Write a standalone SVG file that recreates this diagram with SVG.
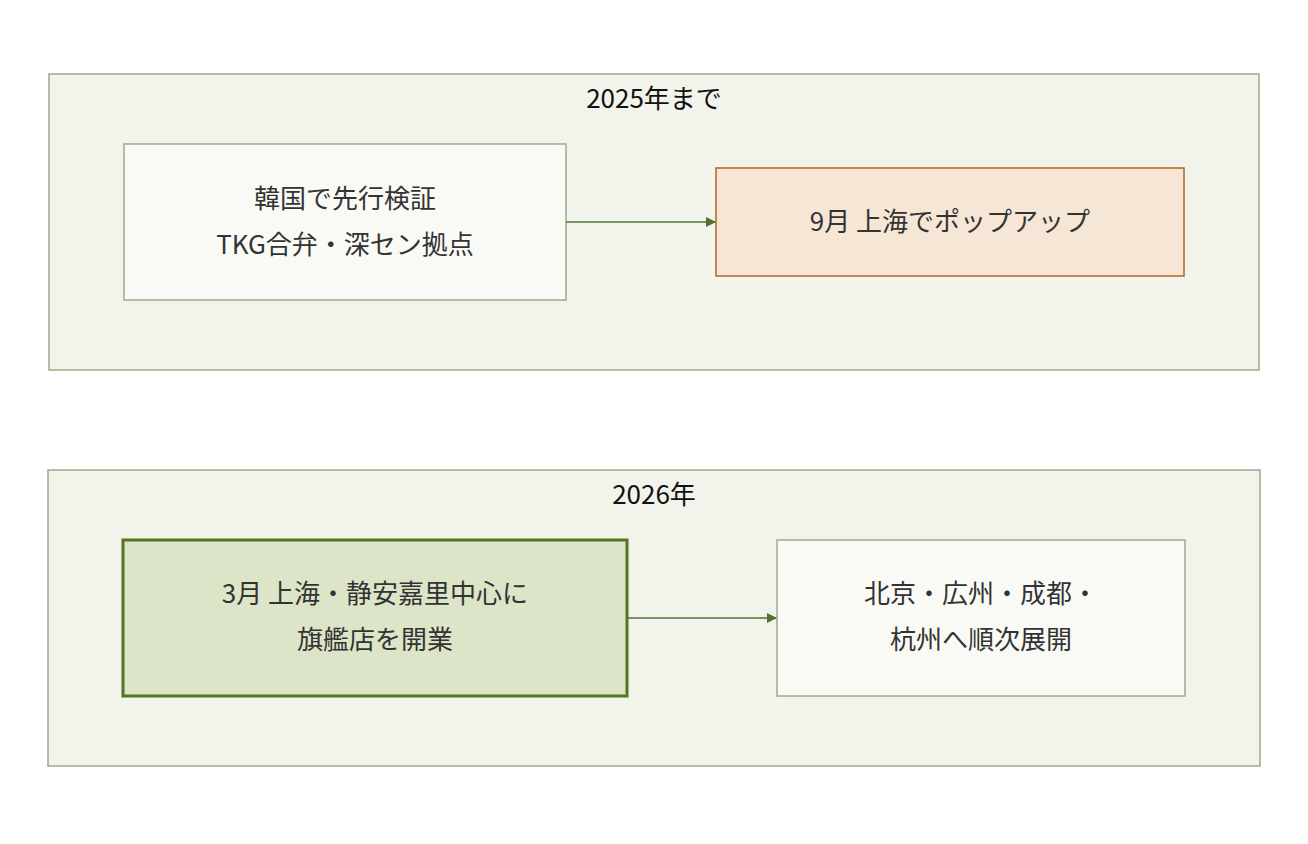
<svg xmlns="http://www.w3.org/2000/svg" width="1308" height="844" viewBox="0 0 1308 844">
<style>
.grp{fill:#f2f3eb;stroke:#9aac8a;stroke-width:1.5}
.node{fill:#f9faf5;stroke:#9aac8a;stroke-width:1.5}
.t{font-family:"Noto Sans CJK JP","Liberation Sans",sans-serif;font-size:26px;fill:#333;text-anchor:middle}
.h{font-family:"Noto Sans CJK JP","Liberation Sans",sans-serif;font-size:26px;fill:#111;text-anchor:middle}
.c{stroke:#4f7336;stroke-width:1.5;fill:none}
</style>
<defs><marker id="a" markerWidth="10" markerHeight="10" refX="9" refY="5" orient="auto" markerUnits="userSpaceOnUse"><path d="M0,0L10,5L0,10z" fill="#4f7336"/></marker></defs>
<rect x="0" y="0" width="1308" height="844" fill="#fff"/>
<g id="g2025"><rect class="grp" x="49" y="74" width="1210" height="296"/><text class="h" x="654" y="108">2025年まで</text></g>
<g id="g2026"><rect class="grp" x="48" y="470" width="1212" height="296"/><text class="h" x="654" y="504">2026年</text></g>
<g id="n1"><rect class="node" x="124" y="144" width="442" height="156"/><text class="t" x="345" y="208">韓国で先行検証</text><text class="t" x="345" y="254">TKG合弁・深セン拠点</text></g>
<g id="n2"><rect x="716" y="168" width="468" height="108" fill="#f5e6d6" stroke="#b5651d" stroke-width="1.5"/><text class="t" x="950" y="231">9月 上海でポップアップ</text></g>
<g id="n3"><rect x="123" y="540" width="504" height="156" fill="#dde5c8" stroke="#55761f" stroke-width="3"/><text class="t" x="375" y="603">3月 上海・静安嘉里中心に</text><text class="t" x="375" y="649">旗艦店を開業</text></g>
<g id="n4"><rect class="node" x="777" y="540" width="408" height="156"/><text class="t" x="981" y="603">北京・広州・成都・</text><text class="t" x="981" y="649">杭州へ順次展開</text></g>
<g id="connectors"><path class="c" d="M566,222H715" marker-end="url(#a)"/><path class="c" d="M627,618H776" marker-end="url(#a)"/></g>
</svg>
